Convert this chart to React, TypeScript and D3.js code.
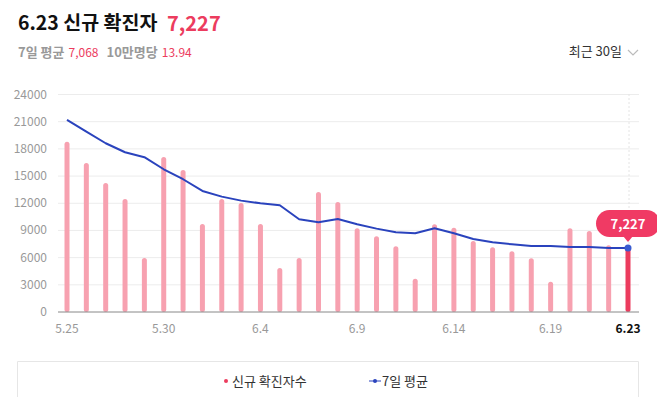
import React from 'react';
import * as d3 from 'd3';

// dates, 5.25 ~ 6.23
const dates = [
  '5.25', '5.26', '5.27', '5.28', '5.29', '5.30', '5.31', '6.1', '6.2', '6.3',
  '6.4', '6.5', '6.6', '6.7', '6.8', '6.9', '6.10', '6.11', '6.12', '6.13',
  '6.14', '6.15', '6.16', '6.17', '6.18', '6.19', '6.20', '6.21', '6.22', '6.23',
];
const dailyCases = [
  18800, 16450, 14240, 12480, 5960, 17110, 15680, 9700, 12480, 12030,
  9700, 4860, 5960, 13250, 12140, 9240, 8360, 7250, 3680, 9680,
  9310, 7840, 7140, 6700, 5930, 3350, 9240, 8940, 7360, 7227,
];
const weekAvg = [
  21200, 19900, 18620, 17630, 17080, 15750, 14650, 13360, 12730, 12290,
  12000, 11780, 10230, 9900, 10270, 9680, 9200, 8800, 8690, 9240,
  8690, 8060, 7690, 7470, 7290, 7290, 7180, 7180, 7070, 7068,
];
const yTicks = [0, 3000, 6000, 9000, 12000, 15000, 18000, 21000, 24000];
const xTickLabels = ['5.25', '5.30', '6.4', '6.9', '6.14', '6.19'];

const W = 657, H = 397;
const font = '"Noto Sans CJK KR", "Noto Sans", sans-serif';
const red = '#ec3c5e';
const barPink = '#f7a1b0';
const blue = '#2a43bd';

export default function App() {
  const x = d3.scalePoint<string>().domain(dates).range([67, 628]);
  const y = d3.scaleLinear().domain([0, 24000]).range([312, 94.5]);

  const line = d3.line<number>()
    .x((_, i) => x(dates[i]) as number)
    .y(d => y(d));

  const last = dates[dates.length - 1];
  const lx = x(last) as number;
  const lastVal = dailyCases[dailyCases.length - 1];
  const tipY = 224;

  return (
    <svg width={W} height={H} style={{ position: 'absolute', left: 0, top: 0, background: '#fff' }} fontFamily={font}>
      {/* header */}
      <text x={18} y={30} fontSize={19.5} fontWeight={700} fill="#111">6.23 신규 확진자</text>
      <text x={167} y={31} fontSize={20} fontWeight={700} fill={red}>7,227</text>
      <text x={18} y={57} fontSize={13} fill="#999">
        <tspan fontWeight={700}>7일 평균</tspan>
        <tspan dx={4} fill={red} fontSize={12}>7,068</tspan>
        <tspan dx={8} fontWeight={700}>10만명당</tspan>
        <tspan dx={4} fill={red} fontSize={12}>13.94</tspan>
      </text>
      <text x={622} y={56} fontSize={13} fill="#333" textAnchor="end">최근 30일</text>
      <path d="M628,50 L633,55 L638,50" fill="none" stroke="#bbb" strokeWidth={1.2} />

      {/* grid */}
      {yTicks.map(t => (
        <g key={t}>
          {t > 0 && <line x1={58} x2={639} y1={y(t)} y2={y(t)} stroke="#ececec" strokeWidth={1} />}
          <text x={47} y={y(t) + 4} fontSize={12} fill="#999" textAnchor="end">{t}</text>
        </g>
      ))}
      <line x1={lx + 1} x2={lx + 1} y1={94} y2={312} stroke="#e4e4e4" strokeDasharray="2,2" />

      {/* bars */}
      {dailyCases.map((v, i) => {
        const bx = x(dates[i]) as number;
        const isLast = i === dailyCases.length - 1;
        return (
          <rect key={i} x={bx - 2.5} width={5} y={y(v)} height={312 - y(v)} rx={2.5}
            fill={isLast ? red : barPink} />
        );
      })}
      <line x1={58} x2={639} y1={312} y2={312} stroke="#888" strokeWidth={1} />

      {/* 7-day avg line */}
      <path d={line(weekAvg) || ''} fill="none" stroke={blue} strokeWidth={2} strokeLinejoin="round" />
      <circle cx={lx} cy={y(weekAvg[weekAvg.length - 1])} r={3.5} fill="#3a5bd0" />

      {/* tooltip */}
      <g>
        <rect x={lx - 32} y={tipY - 14} width={64} height={27} rx={13.5} fill="#f03a64" />
        <path d={`M${lx - 5},${tipY + 12} L${lx},${tipY + 18} L${lx + 5},${tipY + 12} Z`} fill="#f03a64" />
        <text x={lx} y={tipY + 5} fontSize={13} fontWeight={700} fill="#fff" textAnchor="middle">
          {d3.format(',')(lastVal)}
        </text>
      </g>

      {/* x axis labels */}
      {xTickLabels.map(d => (
        <text key={d} x={x(d) as number} y={333} fontSize={12} fill="#999" textAnchor="middle">{d}</text>
      ))}
      <text x={lx} y={333} fontSize={12} fontWeight={700} fill="#111" textAnchor="middle">{last}</text>

      {/* legend box */}
      <path d="M17.5,397 L17.5,361.5 L638.5,361.5 L638.5,397" fill="none" stroke="#e6e6e6" strokeWidth={1} />
      <circle cx={226} cy={381} r={2} fill={red} />
      <text x={232} y={385.5} fontSize={13} fill="#333">신규 확진자수</text>
      <line x1={369} x2={381} y1={381} y2={381} stroke={blue} strokeWidth={1} />
      <circle cx={375} cy={381} r={2} fill={blue} />
      <text x={382} y={385.5} fontSize={13} fill="#333">7일 평균</text>
    </svg>
  );
}
